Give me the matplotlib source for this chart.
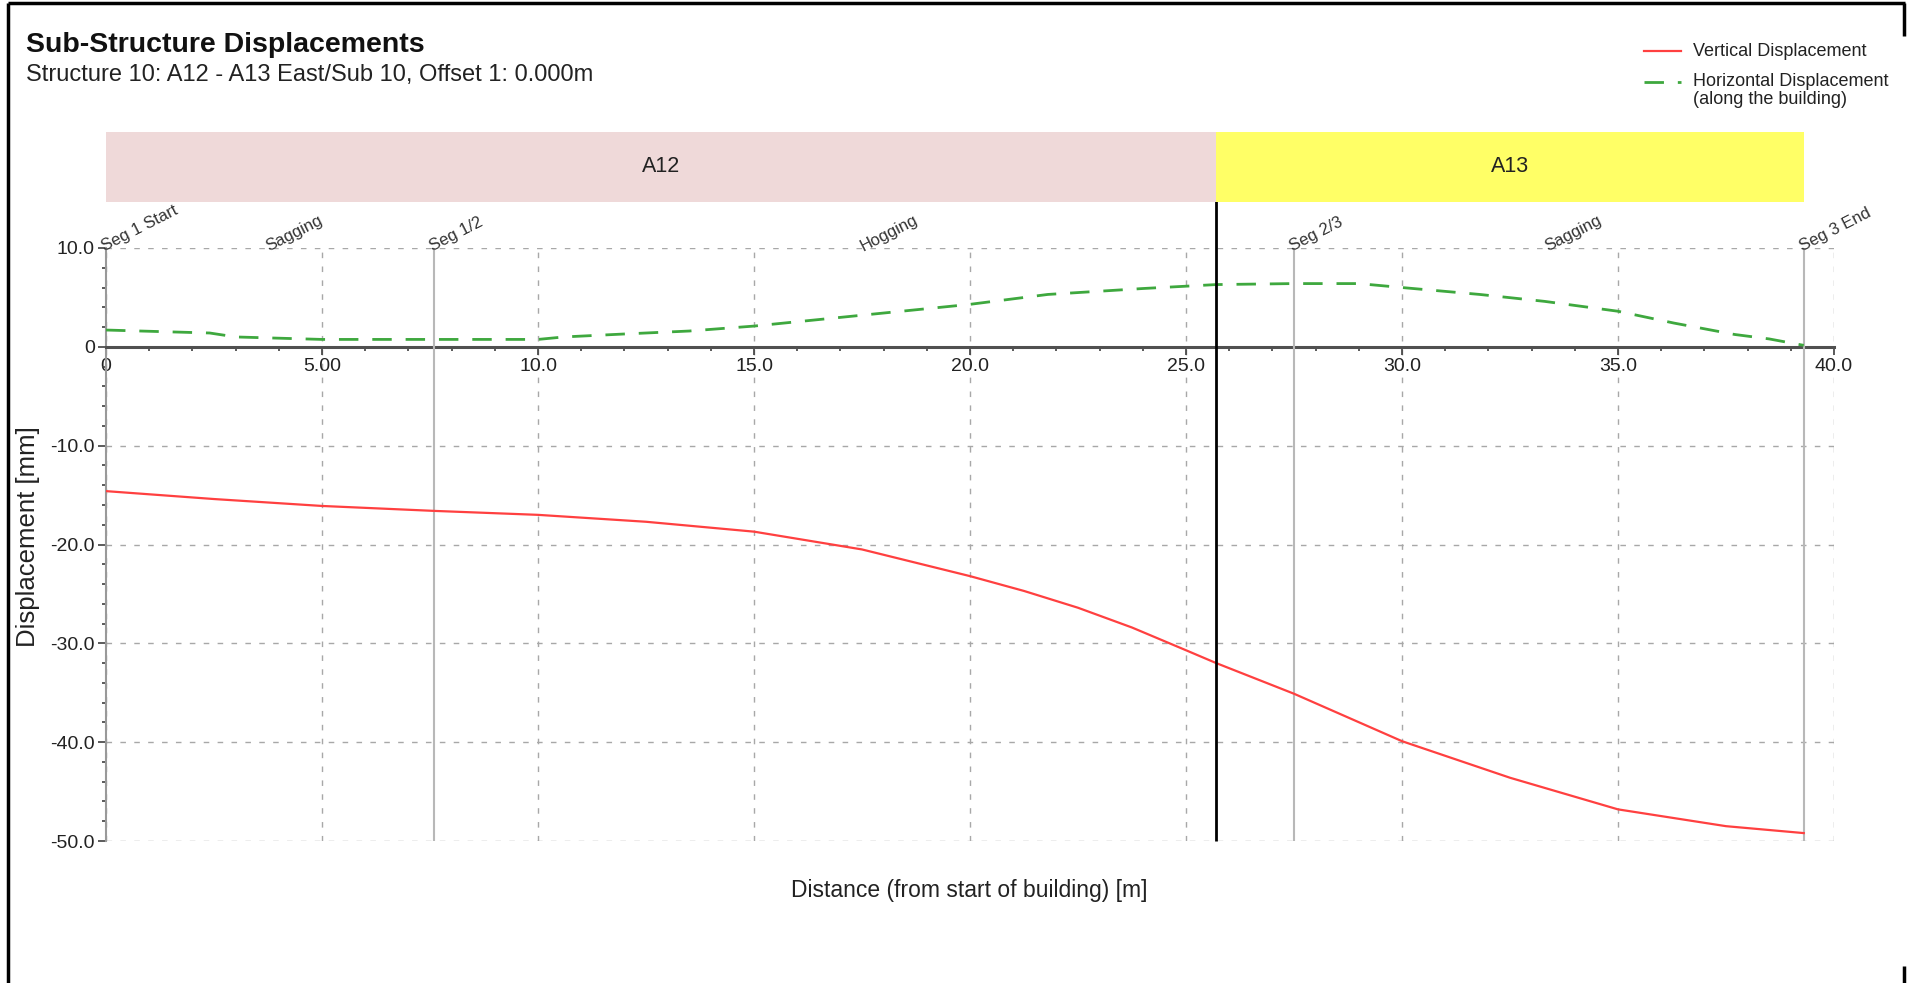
import numpy as np
import matplotlib.pyplot as plt
import matplotlib.ticker as ticker
from matplotlib.lines import Line2D

plt.rcParams['font.family'] = ['Liberation Sans', 'DejaVu Sans']

# vertical settlement along the building [m] -> [mm]
VERT_X = [0.0, 2.5, 5.0, 7.6, 10.0, 12.5, 15.0, 17.5, 20.0, 21.25, 22.5, 23.75,
          25.0, 25.7, 27.5, 30.0, 32.5, 35.0, 37.5, 39.3]
VERT_Y = [-14.6, -15.4, -16.1, -16.6, -17.0, -17.7, -18.7, -20.5, -23.2, -24.7,
          -26.4, -28.4, -30.7, -32.0, -35.1, -39.9, -43.6, -46.8, -48.5, -49.2]

# horizontal displacement along the building
HORIZ_X = [0.0, 2.4, 3.0, 5.0, 7.6, 10.0, 10.6, 12.0, 13.5, 15.0, 17.5, 20.0,
           21.8, 24.0, 25.7, 27.5, 29.0, 30.0, 31.8, 33.3, 35.0, 36.3, 37.7,
           38.5, 39.3]
HORIZ_Y = [1.7, 1.4, 1.0, 0.75, 0.75, 0.75, 1.0, 1.3, 1.6, 2.1, 3.2, 4.3,
           5.3, 5.9, 6.3, 6.4, 6.4, 6.0, 5.3, 4.6, 3.6, 2.4, 1.25, 0.8, 0.15]

SEG_X = [0.0, 7.6, 27.5, 39.3]
SEG_LABELS = ["Seg 1 Start", "Seg 1/2", "Seg 2/3", "Seg 3 End"]
MODE_LABELS = ["Sagging", "Hogging", "Sagging"]

BLOCK_NAMES = ["A12", "A13"]
BLOCK_EDGES = [0.0, 25.7, 39.3]
BLOCK_COLORS = ["#efd9d9", "#ffff66"]

X_TICKS = [0, 5, 10, 15, 20, 25, 30, 35, 40]
X_TICK_LABELS = ["0", "5.00", "10.0", "15.0", "20.0", "25.0", "30.0", "35.0", "40.0"]
Y_TICKS = [-50, -40, -30, -20, -10, 0, 10]
Y_TICK_LABELS = ["-50.0", "-40.0", "-30.0", "-20.0", "-10.0", "0", "10.0"]

RED = "#ff4040"
GREEN = "#3ea83e"
GRID = "#a8a8a8"
TEXT = "#222222"

W, H = 1910, 983
fig = plt.figure(figsize=(W / 100, H / 100), dpi=100)
fig.patch.set_facecolor("white")


def fx(px):
    return px / W


def fy(py):
    return 1 - py / H


# main plot area
ax = fig.add_axes([fx(106), fy(841), fx(1834) - fx(106), fy(248) - fy(841)])
ax.set_xlim(0, 40)
ax.set_ylim(-50, 10)

ax.plot(VERT_X, VERT_Y, color=RED, lw=1.6, zorder=5)
ax.plot(HORIZ_X, HORIZ_Y, color=GREEN, lw=2.0, dashes=(7, 5), zorder=5)

ax.set_xticks(X_TICKS)
ax.set_xticklabels(X_TICK_LABELS)
ax.set_yticks(Y_TICKS)
ax.set_yticklabels(Y_TICK_LABELS)
ax.xaxis.set_minor_locator(ticker.MultipleLocator(1))
ax.yaxis.set_minor_locator(ticker.MultipleLocator(2))

ax.grid(True, which="major", color=GRID, lw=1.0, linestyle=(0, (4, 6)))
ax.set_axisbelow(True)

for side in ("top", "right"):
    ax.spines[side].set_visible(False)
ax.spines["bottom"].set_position(("data", 0))
ax.spines["left"].set_position(("data", 0))
ax.spines["bottom"].set_color("#505050")
ax.spines["bottom"].set_linewidth(2.2)
ax.spines["left"].set_color("#999999")
ax.spines["left"].set_linewidth(1.5)

ax.tick_params(axis="both", which="major", direction="out", length=6, width=1.2,
               color="#404040", labelsize=14, pad=2, labelcolor=TEXT)
ax.tick_params(axis="both", which="minor", direction="out", length=3, width=1.2,
               color="#404040")

# segment boundaries
ax.vlines(SEG_X[1:], -50, 10, color="#b8b8b8", lw=1.5, zorder=3)
for x, lab in zip(SEG_X, SEG_LABELS):
    ax.text(x, 9.4, lab, rotation=27, rotation_mode="anchor", ha="left",
            va="bottom", fontsize=12, color="#333333", clip_on=False)
for i, lab in enumerate(MODE_LABELS):
    xm = (SEG_X[i] + SEG_X[i + 1]) / 2
    ax.text(xm, 9.4, lab, rotation=27, rotation_mode="anchor", ha="left",
            va="bottom", fontsize=12, color="#333333", clip_on=False)

# structure blocks above the plot
band = fig.add_axes([fx(106), fy(202), fx(1834) - fx(106), fy(132) - fy(202)])
band.set_xlim(0, 40)
band.set_ylim(0, 1)
band.axis("off")
for i, name in enumerate(BLOCK_NAMES):
    x0, x1 = BLOCK_EDGES[i], BLOCK_EDGES[i + 1]
    band.axvspan(x0, x1, color=BLOCK_COLORS[i], lw=0)
    band.text((x0 + x1) / 2, 0.5, name, ha="center", va="center", fontsize=15.5,
              color=TEXT)

# block joint
ax.vlines(BLOCK_EDGES[1], 0, (841 - 138) / 593, transform=ax.get_xaxis_transform(),
          color="black", lw=2.0, clip_on=False, zorder=6)

# titles and axis labels
fig.text(fx(26), fy(45), "Sub-Structure Displacements", fontsize=20.5,
         fontweight="bold", va="center", ha="left", color="#111111")
fig.text(fx(26), fy(75), "Structure 10: A12 - A13 East/Sub 10, Offset 1: 0.000m",
         fontsize=17, va="center", ha="left", color=TEXT)
fig.text(fx(969), fy(890), "Distance (from start of building) [m]", fontsize=16.5,
         ha="center", va="center", color=TEXT)
fig.text(fx(28), fy(537), "Displacement [mm]", fontsize=18.5, rotation=90,
         ha="center", va="center", color=TEXT)

# legend
fig.add_artist(Line2D([fx(1644), fx(1681)], [fy(51), fy(51)], color=RED, lw=1.6))
fig.text(fx(1693), fy(51), "Vertical Displacement", fontsize=13, va="center",
         color=TEXT)
fig.add_artist(Line2D([fx(1644), fx(1681)], [fy(82), fy(82)], color=GREEN, lw=2.0,
                      dashes=(7, 5)))
fig.text(fx(1693), fy(82), "Horizontal Displacement", fontsize=13, va="center",
         color=TEXT)
fig.text(fx(1693), fy(100), "(along the building)", fontsize=13, va="center",
         color=TEXT)

# outer frame
frame = dict(color="black", lw=2.5, solid_capstyle="butt")
fig.add_artist(Line2D([fx(8), fx(1905)], [fy(3), fy(3)], **frame))
fig.add_artist(Line2D([fx(8), fx(8)], [fy(3), fy(983)], **frame))
fig.add_artist(Line2D([fx(1904), fx(1904)], [fy(3), fy(36)], **frame))
fig.add_artist(Line2D([fx(1904), fx(1904)], [fy(966), fy(983)], **frame))

fig.savefig("out.png", dpi=100, facecolor="white")
